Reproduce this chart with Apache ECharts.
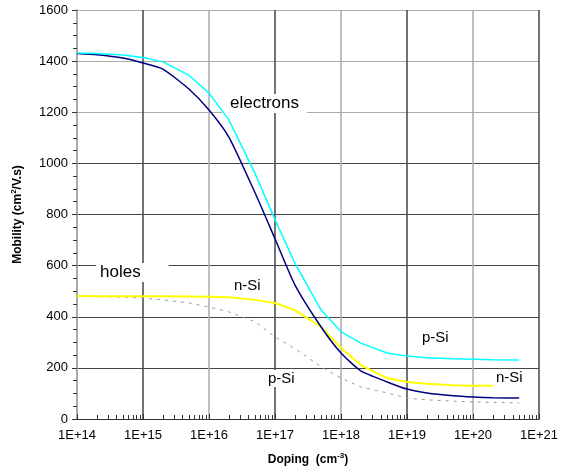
<!DOCTYPE html>
<html>
<head>
<meta charset="utf-8">
<script src="https://cdn.jsdelivr.net/npm/echarts@6/dist/echarts.min.js"></script>
<style>
  html, body { margin: 0; padding: 0; background: #fff; }
  #chart { width: 561px; height: 473px; }
</style>
</head>
<body>
<div id="chart"></div>
<script>
// doping levels (cm^-3) where the curves were read
const doping = [1e14, 2e14, 5e14, 1e15, 2e15, 5e15, 1e16, 2e16, 5e16, 1e17, 2e17, 5e17,
  1e18, 2e18, 5e18, 1e19, 2e19, 5e19, 1e20, 2e20, 5e20]

// electrons, minority in p-Si
const electronsP = [1432, 1430, 1424, 1414, 1397, 1344, 1275, 1170, 960, 780, 610, 426,
  341, 297, 258, 246, 240, 236, 234, 232, 231]
// electrons, majority in n-Si
const electronsN = [1430, 1425, 1412, 1393, 1369, 1290, 1209, 1103, 884, 705, 525, 360,
  258, 188, 145, 117, 102, 91, 86, 83, 82]
// holes, minority in n-Si (ends at 2e20)
const holesN = [481, 480, 480, 480, 480, 479, 478, 476, 466, 454, 426, 360,
  278, 211, 160, 145, 138, 132, 130, 130]
// holes, majority in p-Si
const holesP = [480, 479, 477, 473, 466, 454, 438, 419, 380, 321, 275, 204,
  160, 125, 102, 82, 75, 70, 67, 65, 63]

const yTicks = [0, 200, 400, 600, 800, 1000, 1200, 1400, 1600]

const pairs = (vals) => vals.map((v, i) => [doping[i], v])

const chart = echarts.init(document.getElementById('chart'))

const font = 'Liberation Sans, Arial, sans-serif'

const label = (text, x, y, size, pad) => ({
  type: 'text',
  left: x,
  top: y,
  z: 1,
  style: {
    text: text,
    font: size + 'px ' + font,
    fill: '#000',
    backgroundColor: '#fff',
    padding: pad
  }
})

chart.setOption({
  backgroundColor: '#fff',
  animation: false,
  textStyle: { fontFamily: font },
  grid: { left: 77, right: 18, top: 10, bottom: 54 },
  xAxis: {
    type: 'log',
    logBase: 10,
    min: 1e14,
    max: 1e21,
    name: 'Doping  (cm{sup|-3})',
    nameLocation: 'middle',
    nameGap: 33,
    nameTextStyle: {
      fontSize: 12,
      fontWeight: 'bold',
      color: '#000',
      rich: { sup: { fontSize: 8, fontWeight: 'bold', verticalAlign: 'top', padding: [0, 0, 8, 0] } }
    },
    axisLine: { onZero: false, lineStyle: { color: '#333', width: 1 } },
    axisTick: { inside: true, length: 5, lineStyle: { color: '#333' } },
    minorTick: { show: true, splitNumber: 9, length: 4, lineStyle: { color: '#333' } },
    axisLabel: {
      color: '#000',
      fontSize: 13,
      margin: 10,
      formatter: (v) => '1E+' + Math.round(Math.log10(v))
    },
    splitLine: {
      show: true,
      lineStyle: { color: ['#aaa', '#444'], width: 1.5 }
    }
  },
  yAxis: {
    type: 'value',
    min: yTicks[0],
    max: yTicks[yTicks.length - 1],
    interval: 200,
    name: 'Mobility (cm{sup|2}/V.s)',
    nameLocation: 'middle',
    nameGap: 51,
    nameRotate: 90,
    nameTextStyle: {
      fontSize: 12,
      fontWeight: 'bold',
      color: '#000',
      rich: { sup: { fontSize: 8, fontWeight: 'bold', verticalAlign: 'top', padding: [0, 0, 8, 0] } }
    },
    axisLine: { show: true, lineStyle: { color: '#aaa', width: 2 } },
    axisTick: { show: true, length: 5, lineStyle: { color: '#333' } },
    minorTick: { show: true, splitNumber: 4, length: 4, lineStyle: { color: '#333' } },
    axisLabel: { color: '#000', fontSize: 13, margin: 9, formatter: (v) => String(v) },
    splitLine: {
      show: true,
      lineStyle: {
        color: ['#333', '#444', '#444', '#444', '#444', '#444', '#aaa', '#aaa', '#aaa'],
        width: 1
      }
    }
  },
  graphic: [
    label('electrons', 222, 94, 17, [1, 8, 1, 8]),
    label('holes', 96, 263, 17, [1, 28, 1, 4]),
    label('n-Si', 232, 277, 15, [1, 2, 1, 2]),
    label('p-Si', 264, 370, 15, [1, 6, 1, 4]),
    label('p-Si', 420, 329, 15, [1, 2, 1, 2]),
    label('n-Si', 494, 369, 15, [1, 8, 1, 2])
  ],
  series: [
    {
      name: 'holes p-Si',
      type: 'line',
      data: pairs(holesP),
      showSymbol: false,
      lineStyle: { color: '#999', width: 1, type: [3, 5] },
      z: 2
    },
    {
      name: 'holes n-Si',
      type: 'line',
      data: pairs(holesN),
      showSymbol: false,
      lineStyle: { color: '#ffff00', width: 2 },
      z: 3
    },
    {
      name: 'electrons n-Si',
      type: 'line',
      data: pairs(electronsN),
      showSymbol: false,
      smooth: 0.2,
      lineStyle: { color: '#000080', width: 1.5 },
      z: 4
    },
    {
      name: 'electrons p-Si',
      type: 'line',
      data: pairs(electronsP),
      showSymbol: false,
      lineStyle: { color: '#00ffff', width: 1.5 },
      z: 5
    }
  ]
})
</script>
</body>
</html>
